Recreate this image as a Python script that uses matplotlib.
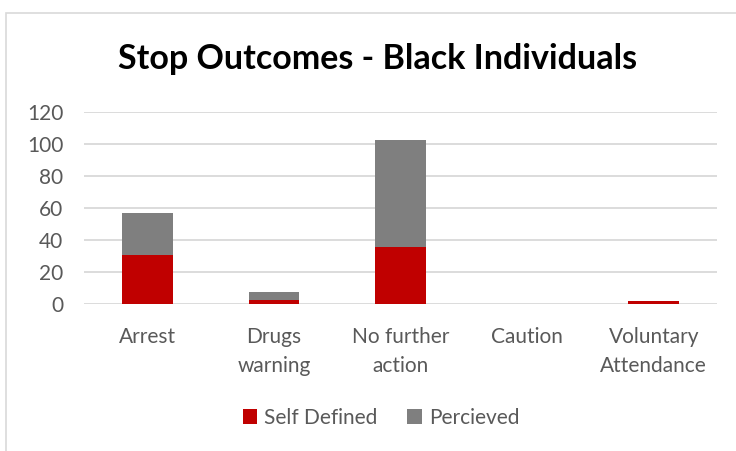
import matplotlib

matplotlib.use("Agg")
import matplotlib.pyplot as plt
import numpy as np
from matplotlib.patches import Rectangle

categories = ["Arrest", "Drugs\nwarning", "No further\naction", "Caution", "Voluntary\nAttendance"]
self_defined = [31, 3, 36, 0, 2]
perceived = [26, 5, 67, 0, 0]
series_names = ["Self Defined", "Percieved"]
yticks = [0, 20, 40, 60, 80, 100, 120]

RED = "#c00000"
GREY = "#7f7f7f"
TEXT = "#595959"

plt.rcParams["font.family"] = ["Lato", "DejaVu Sans"]

W, H = 736, 451
fig = plt.figure(figsize=(W / 100, H / 100), dpi=100)
ax = fig.add_axes([84 / W, 1 - 304.3 / H, (717 - 84) / W, (304.3 - 112.3) / H])

x = np.arange(len(categories))
sd = np.array(self_defined)
pc = np.array(perceived)
ax.bar(x, sd, width=0.4, color=RED, zorder=3, label=series_names[0])
ax.bar(x, pc, width=0.4, bottom=sd, color=GREY, zorder=3, label=series_names[1])

ax.set_xlim(-0.5, len(categories) - 0.5)
ax.set_ylim(0, 120)
ax.set_yticks(yticks)
ax.yaxis.grid(True, color="#d9d9d9", lw=1.3, zorder=0)
ax.set_axisbelow(True)
for s in ax.spines.values():
    s.set_visible(False)
ax.tick_params(axis="both", length=0, colors=TEXT, labelsize=15)
ax.tick_params(axis="y", pad=15)
ax.tick_params(axis="x", pad=16)
ax.set_xticks(x)
ax.set_xticklabels(categories, linespacing=1.6)

fig.text(378 / W, 1 - 59 / H, "Stop Outcomes - Black Individuals", ha="center",
         va="center", fontsize=24.5, fontweight="bold", color="black")

leg = ax.legend(loc="center", bbox_to_anchor=(381 / W, 1 - 418 / H),
                bbox_transform=fig.transFigure, ncol=2, frameon=False,
                fontsize=15, handlelength=0.7, handleheight=0.7,
                handletextpad=0.35, columnspacing=1.4)
for t in leg.get_texts():
    t.set_color(TEXT)

# outer chart frame
fig.patches.append(Rectangle((5.5 / W, -0.1), 1.0, 1 - 12.5 / H + 0.1,
                             transform=fig.transFigure, fill=False,
                             edgecolor="#d9d9d9", lw=1.2))

fig.savefig("out.png", dpi=100)
